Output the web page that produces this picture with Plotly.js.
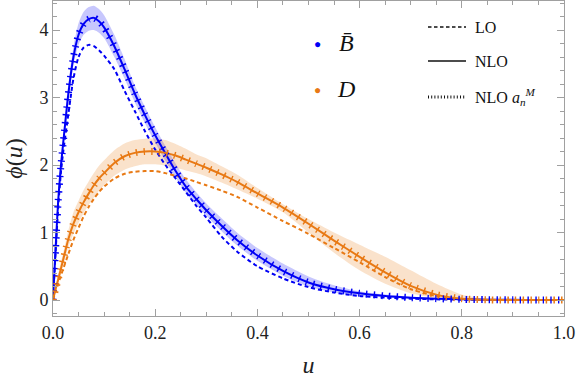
<!DOCTYPE html>
<html>
<head>
<meta charset="utf-8">
<script src="https://cdn.plot.ly/plotly-3.0.1.min.js"></script>
<style>
  html, body { margin: 0; padding: 0; background: #fff; }
  #phi { width: 577px; height: 380px; }
  #phi svg text { font-family: 'Liberation Serif', 'DejaVu Serif', serif !important; }
</style>
</head>
<body>
<div id="phi"></div>
<script>
// common u grid
var u = [0, 0.005, 0.01, 0.015, 0.02, 0.03, 0.04, 0.05, 0.06, 0.07, 0.08, 0.09, 0.1,
  0.12, 0.14, 0.16, 0.18, 0.2, 0.22, 0.24, 0.26, 0.28, 0.3, 0.33, 0.36, 0.4,
  0.45, 0.5, 0.55, 0.6, 0.65, 0.7, 0.75, 0.8, 0.85, 0.9, 0.95, 1.0];

// B-bar meson
var bLO  = [0, 0.7, 1.35, 1.85, 2.2, 2.75, 3.28, 3.6, 3.74, 3.78, 3.76, 3.7, 3.62,
  3.42, 3.1, 2.8, 2.5, 2.23, 2.0, 1.8, 1.6, 1.4, 1.22, 0.94, 0.72, 0.5,
  0.32, 0.19, 0.11, 0.06, 0.035, 0.02, 0.01, 0.005, 0, 0, 0, 0];
var bNLO = [0, 0.75, 1.45, 1.95, 2.33, 3.05, 3.6, 3.93, 4.09, 4.16, 4.18, 4.13, 4.04,
  3.76, 3.42, 3.06, 2.74, 2.44, 2.17, 1.91, 1.68, 1.5, 1.33, 1.1, 0.89, 0.66,
  0.43, 0.26, 0.16, 0.1, 0.06, 0.035, 0.02, 0.01, 0.005, 0.002, 0.001, 0];
var bHi  = [0, 0.8, 1.52, 2.05, 2.45, 3.2, 3.75, 4.1, 4.27, 4.34, 4.36, 4.31, 4.22,
  3.93, 3.57, 3.18, 2.86, 2.56, 2.28, 2.02, 1.79, 1.6, 1.43, 1.21, 1.0, 0.77,
  0.54, 0.35, 0.22, 0.13, 0.08, 0.05, 0.03, 0.012, 0.005, 0.002, 0.001, 0];
var bLo  = [0, 0.7, 1.38, 1.85, 2.22, 2.92, 3.48, 3.78, 3.93, 3.99, 4.0, 3.96, 3.88,
  3.6, 3.28, 2.93, 2.62, 2.33, 2.06, 1.81, 1.59, 1.42, 1.25, 1.02, 0.81, 0.58,
  0.36, 0.2, 0.11, 0.06, 0.04, 0.02, 0.01, 0.005, 0.002, 0, 0, 0];

// D meson
var dLO  = [0, 0.12, 0.23, 0.35, 0.46, 0.68, 0.89, 1.07, 1.24, 1.38, 1.5, 1.6, 1.68,
  1.8, 1.87, 1.9, 1.91, 1.91, 1.88, 1.84, 1.8, 1.75, 1.7, 1.62, 1.53, 1.37,
  1.17, 0.98, 0.77, 0.56, 0.34, 0.16, 0.06, 0.015, 0, 0, 0, 0];
var dNLO = [0, 0.16, 0.3, 0.45, 0.6, 0.9, 1.13, 1.3, 1.45, 1.58, 1.7, 1.8, 1.88,
  2.03, 2.13, 2.18, 2.2, 2.2, 2.18, 2.14, 2.08, 2.02, 1.96, 1.86, 1.75, 1.58,
  1.37, 1.13, 0.88, 0.64, 0.41, 0.21, 0.08, 0.02, 0.003, 0, 0, 0];
var dHi  = [0, 0.2, 0.38, 0.55, 0.7, 1.03, 1.3, 1.47, 1.63, 1.76, 1.88, 1.99, 2.07,
  2.22, 2.32, 2.37, 2.39, 2.39, 2.37, 2.31, 2.24, 2.16, 2.1, 1.98, 1.86, 1.66,
  1.42, 1.2, 1.0, 0.82, 0.64, 0.44, 0.24, 0.08, 0.015, 0, 0, 0];
var dLo  = [0, 0.12, 0.24, 0.36, 0.5, 0.78, 0.98, 1.14, 1.29, 1.41, 1.52, 1.62, 1.7,
  1.84, 1.93, 1.98, 2.01, 2.01, 1.99, 1.96, 1.92, 1.88, 1.83, 1.74, 1.64, 1.5,
  1.3, 1.0, 0.7, 0.44, 0.24, 0.1, 0.03, 0.005, 0, 0, 0, 0];

var blue = 'rgb(0,0,245)';
var orange = 'rgb(232,121,20)';

function band(hi, lo, col) {
  return {
    x: u.concat(u.slice().reverse()),
    y: hi.concat(lo.slice().reverse()),
    type: 'scatter', mode: 'lines',
    fill: 'toself', fillcolor: col,
    line: {width: 0, shape: 'spline', smoothing: 0.7},
    hoverinfo: 'skip'
  };
}

function curve(y, col, dash, w) {
  return {
    x: u, y: y, type: 'scatter', mode: 'lines',
    line: {color: col, width: w, dash: dash, shape: 'spline', smoothing: 0.7}
  };
}

var data = [
  band(bHi, bLo, 'rgba(0,0,245,0.22)'),
  band(dHi, dLo, 'rgba(232,121,20,0.22)'),
  curve(bLO, blue, '4px,3px', 2),
  curve(dLO, orange, '4px,3px', 2),
  curve(bNLO, blue, 'solid', 2),
  curve(dNLO, orange, 'solid', 2),
  curve(bNLO, blue, '1.4px,6.3px', 7),
  curve(dNLO, orange, '1.4px,6.3px', 7)
];

// pixel -> paper helpers for the legend
var L = 53, R = 564, T = 1, B = 316;
function px(x) { return (x - L) / (R - L); }
function py(y) { return (B - y) / (B - T); }

var serif = 'Liberation Serif';

var annotations = [
  {x: px(317), y: py(44), text: '●', font: {size: 12, color: blue}},
  {x: px(317), y: py(90), text: '●', font: {size: 12, color: orange}},
  {x: px(346), y: py(43), text: '<i>B\u0304</i>', font: {size: 24, color: '#111', family: serif}},
  {x: px(346), y: py(89), text: '<i>D</i>', font: {size: 24, color: '#111', family: serif}},
  {x: px(473), y: py(27), text: 'LO', xanchor: 'left', font: {size: 16, color: '#111', family: serif}},
  {x: px(473), y: py(61), text: 'NLO', xanchor: 'left', font: {size: 16, color: '#111', family: serif}},
  {x: px(473), y: py(97), text: 'NLO <i>a</i><sub><i>n</i></sub><sup><i>M</i></sup>', xanchor: 'left', font: {size: 16, color: '#111', family: serif}}
].map(function (a) {
  a.xref = 'paper'; a.yref = 'paper'; a.showarrow = false;
  if (!a.xanchor) a.xanchor = 'center';
  a.yanchor = 'middle';
  return a;
});

var shapes = [
  {y0: py(27), y1: py(27), line: {color: '#111', width: 1.3, dash: '3.5px,2.5px'}},
  {y0: py(61), y1: py(61), line: {color: '#111', width: 1.5}},
  {y0: py(97), y1: py(97), line: {color: '#111', width: 3, dash: '1px,2.2px'}}
].map(function (s) {
  s.type = 'line'; s.xref = 'paper'; s.yref = 'paper';
  s.x0 = px(428); s.x1 = px(466);
  return s;
});

var axisCommon = {
  showgrid: false, zeroline: false,
  showline: true, linecolor: '#a0a0a0', linewidth: 1,
  mirror: 'ticks', ticks: 'inside', tickcolor: '#a0a0a0',
  tickfont: {family: serif, size: 18, color: '#222'}
};

var layout = {
  width: 577, height: 380,
  font: {family: serif, color: '#222'},
  margin: {l: L, r: 577 - R, t: T, b: 380 - B},
  paper_bgcolor: '#fff', plot_bgcolor: '#fff',
  showlegend: false, hovermode: false,
  xaxis: Object.assign({}, axisCommon, {
    range: [0, 1], dtick: 0.2, tick0: 0, tickformat: '.1f', ticklen: 7,
    minor: {dtick: 0.05, ticks: 'inside', ticklen: 4, tickcolor: '#a0a0a0'},
    title: {text: '<i>u</i>', font: {family: serif, size: 24, color: '#222'}, standoff: 14}
  }),
  yaxis: Object.assign({}, axisCommon, {
    range: [-0.237, 4.43], dtick: 1, tick0: 0, ticklen: 7,
    minor: {dtick: 0.2, ticks: 'inside', ticklen: 4, tickcolor: '#a0a0a0'},
    title: {text: '<i>ϕ</i>(<i>u</i>)', font: {family: serif, size: 24, color: '#222'}, standoff: 10}
  }),
  annotations: annotations,
  shapes: shapes
};

Plotly.newPlot('phi', data, layout, {staticPlot: true, displayModeBar: false});
</script>
</body>
</html>
